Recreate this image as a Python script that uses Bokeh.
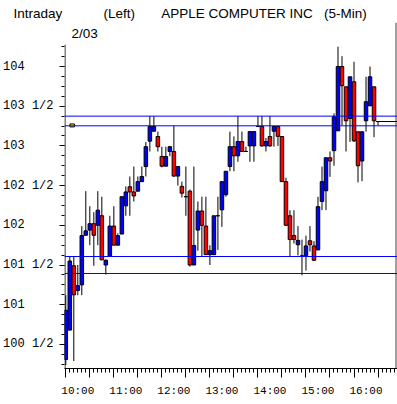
from bokeh.plotting import figure
from bokeh.models import LinearAxis, FixedTicker, Range1d, Span
from bokeh.core.properties import value
from bokeh.embed import file_html
from bokeh.resources import INLINE

# ---------------- data ----------------
times = ["09:30", "09:35", "09:40", "09:45", "09:50", "09:55",
         "10:00", "10:05", "10:10", "10:15", "10:20", "10:25", "10:30", "10:35", "10:40", "10:45", "10:50", "10:55",
         "11:00", "11:05", "11:10", "11:15", "11:20", "11:25", "11:30", "11:35", "11:40", "11:45", "11:50", "11:55",
         "12:00", "12:05", "12:10", "12:15", "12:20", "12:25", "12:30", "12:35", "12:40", "12:45", "12:50", "12:55",
         "13:00", "13:05", "13:10", "13:15", "13:20", "13:25", "13:30", "13:35", "13:40", "13:45", "13:50", "13:55",
         "14:00", "14:05", "14:10", "14:15", "14:20", "14:25", "14:30", "14:35", "14:40", "14:45", "14:50", "14:55",
         "15:00", "15:05", "15:10", "15:15", "15:20", "15:25", "15:30", "15:35", "15:40", "15:45", "15:50", "15:55",
         "16:00"]

opens = [100.31, 100.68, 101.49, 101.18, 101.25, 101.875, 101.94, 102.02, 102.00, 102.12,
         101.50, 101.61, 101.99, 101.75, 101.89, 102.245, 102.485, 102.42, 102.43, 102.55,
         102.74, 103.06, 103.185, 103.118, 102.867, 102.745, 102.93, 102.93, 102.62, 102.49,
         102.36, 102.43, 101.50, 101.94, 102.18, 101.99, 101.63, 101.63, 102.12, 102.195,
         102.385, 102.74, 102.99, 102.875, 103.055, 102.93, 103.00, 103.00, 103.244, 103.244,
         103.00, 103.118, 103.185, 103.244, 103.118, 102.55, 102.12, 101.87, 101.755, 101.615,
         101.62, 101.805, 101.74, 101.69, 102.30, 102.435, 102.85, 102.94, 103.19, 104.00,
         103.744, 103.345, 103.807, 103.178, 102.81, 103.316, 103.505, 103.744, 103.307]

highs = [101.12, 101.61, 101.61, 101.50, 101.99, 102.43, 102.24, 102.165, 102.43, 102.36,
         101.57, 102.12, 102.24, 101.90, 102.36, 102.49, 102.615, 102.74, 102.615, 102.74,
         103.05, 103.375, 103.375, 103.18, 102.99, 102.99, 102.99, 103.253, 102.74, 102.55,
         102.74, 102.45, 102.74, 102.30, 102.36, 102.36, 101.75, 102.12, 102.36, 102.55,
         102.68, 103.18, 103.12, 103.375, 103.18, 102.99, 103.18, 103.18, 103.375, 103.375,
         103.10, 103.375, 103.244, 103.244, 103.118, 102.60, 102.19, 102.19, 101.99, 101.82,
         101.87, 101.99, 101.80, 102.36, 102.74, 102.86, 102.93, 103.41, 104.25, 104.13,
         103.744, 103.87, 104.06, 103.178, 103.178, 103.87, 104.00, 103.744, 103.307]

lows = [100.24, 100.68, 100.29, 101.12, 101.12, 101.87, 101.75, 101.49, 101.75, 101.56,
        101.38, 101.61, 101.75, 101.75, 101.89, 102.12, 102.12, 102.30, 102.43, 102.55,
        102.615, 102.93, 103.185, 102.93, 102.73, 102.745, 102.87, 102.61, 102.50, 102.35,
        102.12, 101.48, 101.50, 101.68, 101.60, 101.63, 101.50, 101.63, 101.69, 101.98,
        102.36, 102.68, 102.68, 102.80, 102.93, 102.93, 102.80, 102.80, 103.244, 102.99,
        102.93, 102.99, 102.99, 103.00, 102.55, 102.00, 101.60, 101.77, 101.62, 101.37,
        101.43, 101.67, 101.55, 101.69, 102.19, 102.19, 102.61, 102.75, 103.19, 103.26,
        102.93, 103.05, 103.05, 102.54, 102.555, 103.18, 103.505, 103.11, 103.26]

closes = [100.93, 101.55, 101.125, 101.24, 101.87, 101.93, 102.02, 101.875, 102.19, 101.565,
          101.56, 101.99, 101.75, 101.87, 102.36, 102.42, 102.42, 102.37, 102.55, 102.615,
          102.99, 103.244, 103.244, 102.99, 102.745, 102.867, 102.99, 102.62, 102.74, 102.405,
          102.36, 101.50, 101.745, 102.18, 102.00, 101.63, 101.68, 102.12, 102.12, 102.55,
          102.68, 102.99, 102.875, 103.055, 102.93, 102.93, 103.18, 103.18, 103.244, 103.00,
          103.055, 103.00, 103.244, 103.12, 102.55, 102.00, 101.82, 101.82, 101.81, 101.615,
          101.74, 101.755, 101.56, 102.235, 102.55, 102.85, 102.81, 103.367, 104.00, 103.757,
          103.316, 103.87, 103.064, 102.75, 103.178, 103.556, 103.87, 103.316, 103.307]

y_tick_values = [100.5, 101, 101.5, 102, 102.5, 103, 103.5, 104]
y_tick_labels = ["100 1/2", "101", "101 1/2", "102", "102 1/2", "103", "103 1/2", "104"]
x_tick_labels = ["10:00", "11:00", "12:00", "13:00", "14:00", "15:00", "16:00"]

levels = [103.375, 103.253, 101.607, 101.393]
marker_time = ["09:38"]
marker_price = [103.258]

header_texts = ["Intraday", "(Left)", "APPLE COMPUTER INC", "(5-Min)"]
date_text = ["2/03"]

# ---------------- layout / geometry ----------------
def to_min(t):
    h, m = t.split(":")
    return (int(h) - 9) * 60 + int(m) - 30

W, H = 397, 404
X0_PAGE = 64.3        # page x of 09:30
PX_PER_MIN = 0.803
Y104_PAGE = 66.0      # page y of price 104
PX_PER_PT = 79.4
FR_L, FR_T, FR_B = 63, 22, 368   # frame left / top / bottom (frame reaches the right edge)
AX_TOP = 44           # where the price axis line starts

def px2x(px):
    return (px - X0_PAGE) / PX_PER_MIN

def py2y(py):
    return 104.0 + (Y104_PAGE - py) / PX_PER_PT

xs = [to_min(t) for t in times]
BLUE = "#0000ff"
RED = "#ff0000"

p = figure(width=W, height=H, output_backend="svg", toolbar_location=None,
           x_range=Range1d(px2x(FR_L), px2x(W)),
           y_range=Range1d(py2y(FR_B), py2y(FR_T)),
           x_axis_location=None, y_axis_location=None,
           min_border_left=FR_L, min_border_right=0, min_border_top=FR_T, min_border_bottom=H - FR_B,
           background_fill_color="white", border_fill_color="white", outline_line_color=None)
p.xgrid.visible = False
p.ygrid.visible = False

# header line as the plot title (spaced like the original)
NB = "\u00a0"
p.title.text = (header_texts[0] + NB * 11 + header_texts[1] + NB * 7 +
                header_texts[2] + NB * 3 + header_texts[3])
p.title.align = "left"
p.title.offset = 12 - FR_L
p.title.standoff = 3
p.title.text_font = "Liberation Sans"
p.title.text_font_size = "13.5px"
p.title.text_font_style = "normal"
p.title.text_color = "black"

# price axis line (starts below the header area)
p.segment(x0=[px2x(FR_L + 0.5)], y0=[py2y(FR_B)], x1=[px2x(FR_L + 0.5)], y1=[py2y(AX_TOP)],
          line_color="black", line_width=1)
# right border line
p.segment(x0=[px2x(W - 1.5)], y0=[py2y(FR_B)], x1=[px2x(W - 1.5)], y1=[py2y(FR_T)],
          line_color="#404040", line_width=1)

# wicks
p.segment(x0=xs, y0=lows, x1=xs, y1=highs, line_color="black", line_width=1)
# bodies
tops = [max(o, c) for o, c in zip(opens, closes)]
bots = [min(o, c) for o, c in zip(opens, closes)]
cols = [BLUE if c >= o else RED for o, c in zip(opens, closes)]
p.vbar(x=xs, width=4.4, top=tops, bottom=bots, fill_color=cols, line_color="black", line_width=1)

# last price line
p.ray(x=[xs[-1]], y=[closes[-1]], length=0, angle=0, line_color="black", line_width=1)

# level lines
for lv in levels:
    p.add_layout(Span(location=lv, dimension="width", line_color=BLUE, line_width=1))

# small marker
p.rect(x=[to_min(t) for t in marker_time], y=marker_price, width=4.5 / PX_PER_MIN, height=3 / PX_PER_PT,
       fill_color="#ffff00", line_color="black", line_width=1)

# date under the header
p.text(x=[px2x(70)], y=[py2y(33)], text=date_text,
       text_font=value("Liberation Sans"), text_font_size="13.5px", text_color="black",
       text_align="left", text_baseline="alphabetic")

# y axis
minor_y = [100.25 + 0.125 * k for k in range(33)]
yax = LinearAxis(ticker=FixedTicker(ticks=y_tick_values, minor_ticks=minor_y),
                 major_tick_out=5, major_tick_in=0, minor_tick_out=3, minor_tick_in=0,
                 axis_line_color=None, major_tick_line_color="black", minor_tick_line_color="black",
                 major_label_standoff=6, major_label_text_font="Liberation Mono",
                 major_label_text_font_size="12px", major_label_text_color="black")
width_lab = max(len(s) for s in y_tick_labels)
yax.major_label_overrides = {(int(v) if float(v).is_integer() else v):
                             s.replace(" ", NB).ljust(width_lab, NB)
                             for v, s in zip(y_tick_values, y_tick_labels)}
p.add_layout(yax, "left")

# x axis: tick marks (no labels)
half_hours = list(range(0, 420, 30))
five_min = list(range(0, 420, 5))
xax = LinearAxis(ticker=FixedTicker(ticks=half_hours, minor_ticks=five_min),
                 major_tick_out=9, major_tick_in=0, minor_tick_out=4, minor_tick_in=0,
                 axis_line_color="black", major_tick_line_color="black", minor_tick_line_color="black",
                 major_label_standoff=0, major_label_text_font_size="0px", major_label_text_color=None)
p.add_layout(xax, "below")
# x axis: hour labels, drawn just left of the hour ticks as in the original
label_pos = [to_min(s) - 15 for s in x_tick_labels]
xlab = LinearAxis(ticker=FixedTicker(ticks=label_pos, minor_ticks=[]),
                  major_tick_out=0, major_tick_in=0, minor_tick_out=0, minor_tick_in=0,
                  axis_line_color=None, major_label_standoff=7,
                  major_label_text_font="Liberation Mono", major_label_text_font_size="11px",
                  major_label_text_color="black")
xlab.major_label_overrides = dict(zip(label_pos, x_tick_labels))
p.add_layout(xlab, "below")

open("out.html", "w").write(file_html(p, INLINE))
